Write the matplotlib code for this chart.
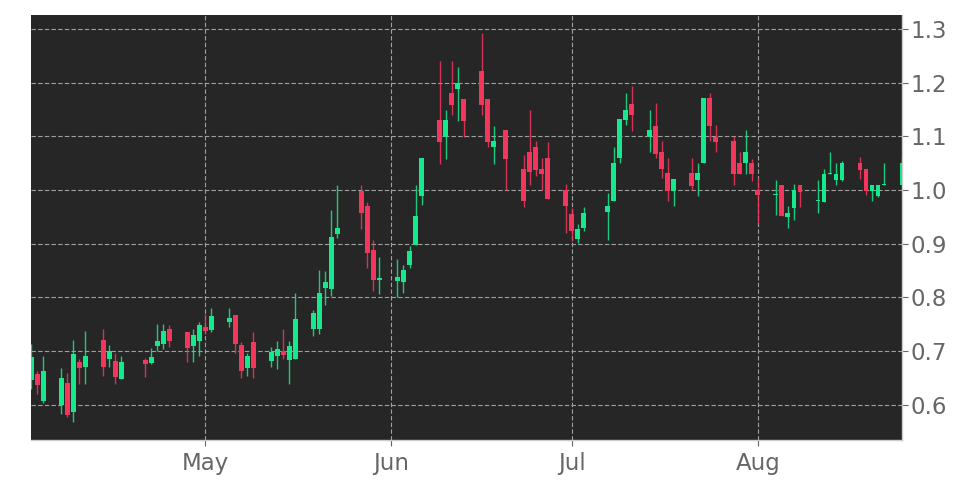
import numpy as np
import pandas as pd
import matplotlib
matplotlib.use("Agg")
import matplotlib.pyplot as plt
import matplotlib.dates as mdates

holidays = ["2025-04-18", "2025-05-26", "2025-06-19", "2025-07-04"]
dates = pd.bdate_range("2025-04-02", "2025-08-25")
dates = dates[~dates.isin(pd.to_datetime(holidays))]

opens = [0.647, 0.657, 0.607, 0.599, 0.640, 0.586, 0.680, 0.670, 0.720, 0.686,
         0.682, 0.648, 0.683, 0.678, 0.709, 0.713, 0.741, 0.735, 0.710, 0.719,
         0.745, 0.739, 0.754, 0.768, 0.712, 0.668, 0.717, 0.682, 0.691, 0.701,
         0.684, 0.685, 0.741, 0.742, 0.817, 0.816, 0.918, 0.999, 0.970, 0.889,
         0.833, 0.830, 0.828, 0.861, 0.898, 0.988, 1.131, 1.098, 1.180, 1.189,
         1.170, 1.221, 1.170, 1.080, 1.111, 1.040, 1.070, 1.081, 1.040, 1.060,
         1.001, 0.956, 0.908, 0.929, 0.959, 0.980, 1.060, 1.130, 1.161, 1.099,
         1.120, 1.070, 1.031, 0.999, 1.031, 1.018, 1.051, 1.171, 1.099, 1.092,
         1.051, 1.050, 1.051, 1.001, 0.990, 1.010, 0.950, 0.967, 1.010, 0.979,
         0.977, 1.030, 1.018, 1.018, 1.051, 1.040, 0.999, 0.988, 1.010, 1.010]
highs = [0.713, 0.663, 0.690, 0.668, 0.659, 0.720, 0.685, 0.738, 0.742, 0.711,
         0.696, 0.691, 0.687, 0.705, 0.750, 0.750, 0.748, 0.735, 0.741, 0.755,
         0.769, 0.780, 0.780, 0.768, 0.716, 0.697, 0.736, 0.707, 0.719, 0.741,
         0.719, 0.809, 0.777, 0.851, 0.850, 0.963, 1.009, 1.009, 0.978, 0.907,
         0.875, 0.871, 0.861, 0.896, 1.009, 1.060, 1.241, 1.150, 1.241, 1.230,
         1.170, 1.293, 1.170, 1.120, 1.111, 1.066, 1.150, 1.091, 1.060, 1.089,
         1.011, 0.967, 0.936, 0.969, 0.995, 1.081, 1.132, 1.180, 1.193, 1.150,
         1.163, 1.091, 1.060, 1.020, 1.060, 1.051, 1.171, 1.180, 1.121, 1.101,
         1.070, 1.112, 1.057, 1.023, 1.019, 1.010, 0.971, 1.011, 1.010, 1.019,
         1.040, 1.070, 1.051, 1.055, 1.062, 1.040, 1.010, 1.010, 1.051, 1.060]
lows = [0.629, 0.620, 0.603, 0.583, 0.578, 0.568, 0.639, 0.639, 0.654, 0.671,
        0.639, 0.648, 0.651, 0.676, 0.701, 0.704, 0.707, 0.680, 0.680, 0.691,
        0.732, 0.735, 0.744, 0.696, 0.649, 0.654, 0.649, 0.671, 0.666, 0.685,
        0.639, 0.685, 0.728, 0.731, 0.785, 0.803, 0.910, 0.927, 0.854, 0.811,
        0.807, 0.801, 0.808, 0.854, 0.898, 0.973, 1.048, 1.058, 1.140, 1.128,
        1.099, 1.139, 1.080, 1.049, 1.001, 0.968, 1.010, 1.027, 1.001, 0.983,
        0.920, 0.905, 0.902, 0.924, 0.906, 0.980, 1.051, 1.121, 1.110, 1.070,
        1.060, 1.023, 0.980, 0.970, 1.001, 0.989, 1.051, 1.091, 1.070, 1.010,
        1.029, 1.029, 1.016, 0.938, 0.953, 0.952, 0.930, 0.944, 0.969, 0.958,
        0.977, 1.029, 1.010, 1.016, 1.020, 0.991, 0.979, 0.987, 1.009, 1.010]
closes = [0.688, 0.637, 0.662, 0.650, 0.581, 0.694, 0.668, 0.690, 0.670, 0.701,
          0.652, 0.680, 0.676, 0.689, 0.718, 0.738, 0.718, 0.705, 0.729, 0.749,
          0.737, 0.766, 0.762, 0.713, 0.662, 0.691, 0.668, 0.699, 0.704, 0.693,
          0.710, 0.760, 0.771, 0.808, 0.828, 0.913, 0.930, 0.957, 0.882, 0.832,
          0.837, 0.838, 0.851, 0.887, 0.952, 1.060, 1.089, 1.131, 1.159, 1.200,
          1.128, 1.159, 1.089, 1.091, 1.058, 0.979, 1.034, 1.038, 1.029, 0.983,
          0.970, 0.924, 0.927, 0.957, 0.971, 1.051, 1.132, 1.150, 1.140, 1.111,
          1.068, 1.039, 0.999, 1.020, 1.008, 1.031, 1.171, 1.119, 1.089, 1.029,
          1.029, 1.070, 1.029, 0.991, 0.991, 0.952, 0.958, 1.001, 0.997, 0.980,
          1.030, 1.031, 1.030, 1.051, 1.038, 0.999, 1.010, 1.010, 1.011, 1.051]

up_color = "#16e88c"
down_color = "#f5365c"

o = np.array(opens)
h = np.array(highs)
l = np.array(lows)
c = np.array(closes)
x = mdates.date2num(dates)
colors = np.where(c >= o, up_color, down_color)

fig = plt.figure(figsize=(9.72, 4.86), dpi=100)
ax = fig.add_axes([0.032, 0.095, 0.896, 0.874])
ax.set_facecolor("#262626")

# wicks then bodies
ax.vlines(x, l, h, colors=colors, linewidth=1, alpha=0.85, zorder=2)
body = np.maximum(np.abs(c - o), 0.002)
ax.bar(x, body, bottom=np.minimum(o, c), width=0.8, color=colors, linewidth=0, zorder=3)

ax.set_xlim(x[0], x[-1])
ax.set_ylim(0.5346, 1.326)
ax.yaxis.tick_right()
ax.set_yticks([0.6, 0.7, 0.8, 0.9, 1.0, 1.1, 1.2, 1.3])
ax.xaxis.set_major_locator(mdates.MonthLocator(bymonth=[5, 6, 7, 8]))
ax.xaxis.set_major_formatter(mdates.DateFormatter("%b"))

ax.grid(True, color="#a0a0a0", linestyle=(0, (4, 2)), linewidth=0.8, zorder=1)
ax.tick_params(colors="#666666", labelsize=16.5, length=4, width=0.8, pad=2)
ax.tick_params(axis="x", pad=5)
for s in ["left", "top"]:
    ax.spines[s].set_visible(False)
for s in ["right", "bottom"]:
    ax.spines[s].set_color("#cccccc")
    ax.spines[s].set_linewidth(1)

fig.savefig("out.png", dpi=100, facecolor="white")
